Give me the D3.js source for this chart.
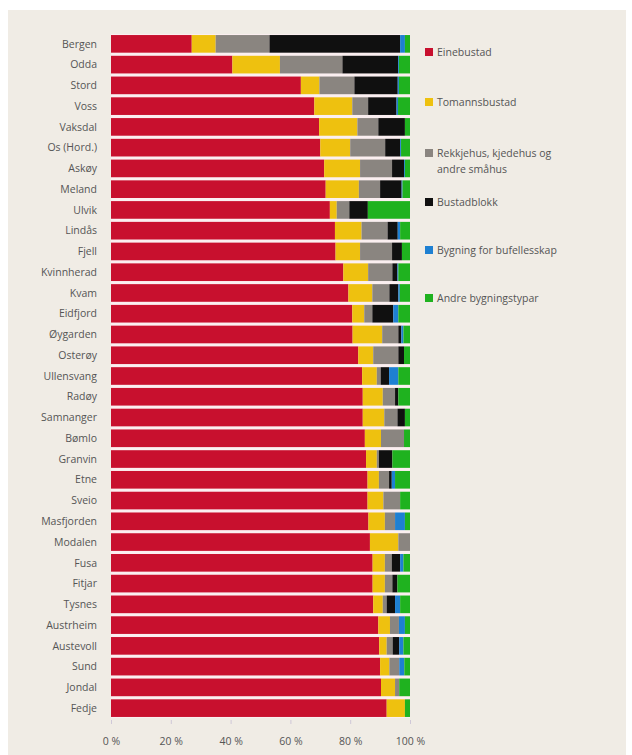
<!DOCTYPE html>
<html>
<head>
<meta charset="utf-8">
<script src="https://cdn.jsdelivr.net/npm/d3@7"></script>
<style>
  body { margin: 0; background: #ffffff; }
  svg text { font-family: "Open Sans", "DejaVu Sans", sans-serif; }
</style>
</head>
<body>
<svg id="chart" width="632" height="755"></svg>
<script>
// Kommunar (categories), top to bottom
const kommunar = ["Bergen", "Odda", "Stord", "Voss", "Vaksdal", "Os (Hord.)", "Askøy", "Meland",
  "Ulvik", "Lindås", "Fjell", "Kvinnherad", "Kvam", "Eidfjord", "Øygarden", "Osterøy",
  "Ullensvang", "Radøy", "Samnanger", "Bømlo", "Granvin", "Etne", "Sveio", "Masfjorden",
  "Modalen", "Fusa", "Fitjar", "Tysnes", "Austrheim", "Austevoll", "Sund", "Jondal", "Fedje"];

// series names (legend)
const seriesNames = ["Einebustad", "Tomannsbustad", "Rekkjehus, kjedehus og andre småhus",
  "Bustadblokk", "Bygning for bufellesskap", "Andre bygningstypar"];

// share in percent, one array per series, same order as kommunar
const einebustad    = [27, 40.6, 63.5, 68, 69.6, 70, 71.3, 71.8, 73.2, 74.9, 75.1, 77.7, 79.4, 80.7, 80.8, 82.7,
  84, 84.2, 84.2, 84.9, 85.3, 85.8, 85.8, 86.1, 86.6, 87.5, 87.5, 87.7, 89.4, 89.7, 90, 90.3, 92.2];
const tomannsbustad = [8, 15.9, 6.2, 12.7, 12.8, 10, 12, 11.1, 2.3, 8.9, 8.2, 8.3, 8, 4, 9.9, 5,
  4.9, 6.7, 7.2, 5.4, 3.6, 3.8, 5.3, 5.5, 9.5, 4.1, 4.1, 3.2, 3.9, 2.5, 3.1, 4.7, 6.1];
const rekkjehus     = [18, 20.9, 11.7, 5.3, 7, 11.7, 10.7, 7.1, 4.2, 8.7, 10.7, 8.1, 5.7, 2.7, 5.4, 8.4,
  1.3, 4.1, 4.4, 7.7, 0.7, 3.4, 5.6, 3.4, 3.9, 2.3, 2.5, 1.3, 3, 2, 3.3, 1.4, 0];
const bustadblokk   = [43.7, 18.6, 14.5, 9.5, 8.9, 5, 4, 7.2, 6.2, 3.4, 3.3, 1.7, 3, 7, 1, 1.9,
  2.8, 1.1, 2.5, 0, 4.5, 0.9, 0, 0, 0, 2.8, 1.7, 2.8, 0, 2.2, 0, 0, 0];
const bufellesskap  = [1.6, 0.3, 0.4, 0.5, 0, 0.3, 0.3, 0.3, 0, 0.8, 0, 0.3, 0.5, 1.7, 0.7, 0,
  3.1, 0, 0, 0, 0, 1.1, 0, 3.3, 0, 1.1, 0, 1.7, 2, 1.4, 1.7, 0, 0];
const andre         = [1.7, 3.7, 3.7, 4, 1.7, 3, 1.7, 2.5, 14.1, 3.3, 2.7, 3.9, 3.4, 3.9, 2.2, 2,
  3.9, 3.9, 1.7, 2, 5.9, 5, 3.3, 1.7, 0, 2.2, 4.2, 3.3, 1.7, 2.2, 1.9, 3.6, 1.7];

const tickValues = [0, 20, 40, 60, 80, 100];
const colors = ["#c8102e", "#eec10f", "#8a8580", "#101010", "#1e80d2", "#1fb21f"];

const svg = d3.select("#chart");

// beige panel
svg.append("rect")
  .attr("x", 8).attr("y", 10)
  .attr("width", 618).attr("height", 745)
  .attr("fill", "#f0ece5");

const margin = {left: 111, top: 34, right: 222, bottom: 37};
const x = d3.scaleLinear().domain([0, 100]).range([margin.left, 410]);
const y = d3.scaleBand().domain(kommunar).range([margin.top, 718]).paddingInner(0.15).paddingOuter(0.05);

// build rows for stacking
const keys = ["s0", "s1", "s2", "s3", "s4", "s5"];
const allSeries = [einebustad, tomannsbustad, rekkjehus, bustadblokk, bufellesskap, andre];
const rows = kommunar.map((k, i) => {
  let r = {name: k};
  keys.forEach((key, j) => { r[key] = allSeries[j][i]; });
  return r;
});
const stacked = d3.stack().keys(keys)(rows);

// white band behind bars (the thin separators)
svg.append("rect")
  .attr("x", x(0)).attr("y", y.range()[0])
  .attr("width", x(100) - x(0)).attr("height", y.range()[1] - y.range()[0])
  .attr("fill", "#fbeff0");

const layers = svg.append("g").selectAll("g")
  .data(stacked).enter()
  .append("g")
  .attr("fill", (d, i) => colors[i]);

layers.selectAll("rect")
  .data(d => d).enter()
  .append("rect")
  .attr("x", d => x(d[0]))
  .attr("y", d => y(d.data.name))
  .attr("width", d => Math.max(0, x(d[1]) - x(d[0])))
  .attr("height", y.bandwidth());

// category labels
svg.append("g").selectAll("text")
  .data(kommunar).enter()
  .append("text")
  .attr("x", 97)
  .attr("y", d => y(d) + y.bandwidth() / 2)
  .attr("dy", "0.35em")
  .attr("text-anchor", "end")
  .attr("font-size", 10.5)
  .attr("fill", "#555")
  .text(d => d);

// x axis
const xAxis = svg.append("g")
  .attr("transform", `translate(0, ${y.range()[1] + 2})`)
  .call(d3.axisBottom(x).tickValues(tickValues).tickSize(4).tickPadding(14).tickFormat(d => d + " %"));
xAxis.select(".domain").remove();
xAxis.selectAll(".tick line").attr("stroke", "#cfc8d8");
xAxis.selectAll(".tick text")
  .attr("font-size", 10.5)
  .attr("fill", "#555")
  .style("font-family", "'Open Sans', 'DejaVu Sans', sans-serif");

// legend
const legendY = [52, 102, 153, 202, 250, 298];
const legend = svg.append("g").selectAll("g")
  .data(seriesNames).enter()
  .append("g")
  .attr("transform", (d, i) => `translate(425, ${legendY[i]})`);

legend.append("rect")
  .attr("x", 0).attr("y", -4)
  .attr("width", 8).attr("height", 8)
  .attr("fill", (d, i) => colors[i]);

legend.append("text")
  .attr("x", 12)
  .attr("dy", "0.35em")
  .attr("font-size", 10.5)
  .attr("fill", "#555")
  .each(function(d) {
    let el = d3.select(this);
    if (d.indexOf(" og ") > 0) {
      el.append("tspan").attr("x", 12).text("Rekkjehus, kjedehus og");
      el.append("tspan").attr("x", 12).attr("dy", "1.55em").text("andre småhus");
    } else {
      el.text(d);
    }
  });
</script>
</body>
</html>
